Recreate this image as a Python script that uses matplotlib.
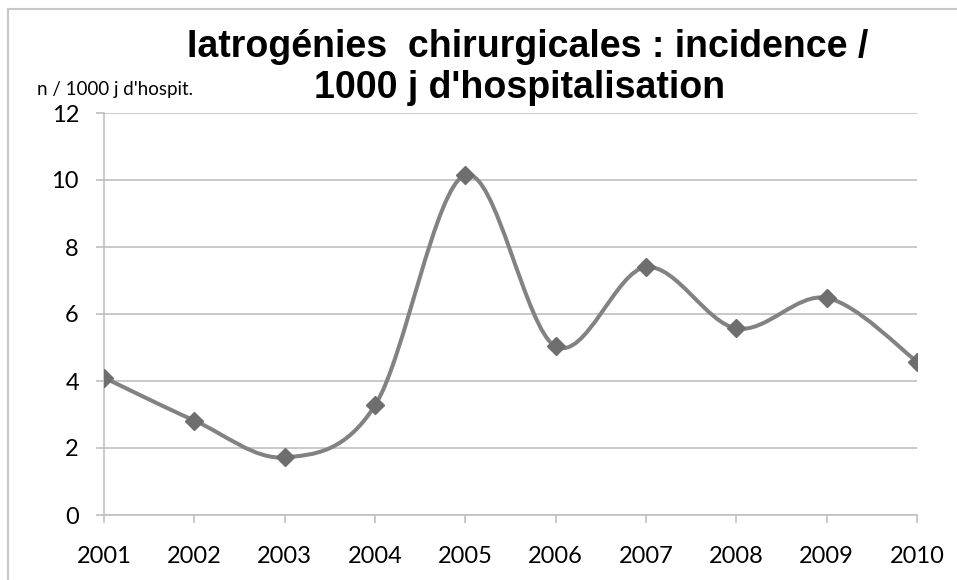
import numpy as np
import matplotlib
matplotlib.use('Agg')
import matplotlib.pyplot as plt
from matplotlib.path import Path
from matplotlib.patches import PathPatch, Rectangle

annees = [2001, 2002, 2003, 2004, 2005, 2006, 2007, 2008, 2009, 2010]
incidence = [4.1, 2.82, 1.72, 3.27, 10.15, 5.03, 7.4, 5.57, 6.48, 4.58]
yticks = [0, 2, 4, 6, 8, 10, 12]

gris_ligne = '#828282'
gris_marq = '#6e6e6e'
gris_grille = '#c0c0c0'

fig = plt.figure(figsize=(9.57, 5.8), dpi=100)
ax = fig.add_axes([104 / 957, 65 / 580, 813 / 957, 402 / 580])

# courbe lissee facon Excel (bezier catmull-rom)
x = np.arange(len(annees), dtype=float)
y = np.array(incidence)
verts = [(x[0], y[0])]
codes = [Path.MOVETO]
n = len(x)
for i in range(n - 1):
	x0, y0 = (x[i - 1], y[i - 1]) if i > 0 else (x[i], y[i])
	x3, y3 = (x[i + 2], y[i + 2]) if i + 2 < n else (x[i + 1], y[i + 1])
	c1 = (x[i] + (x[i + 1] - x0) / 6, y[i] + (y[i + 1] - y0) / 6)
	c2 = (x[i + 1] - (x3 - x[i]) / 6, y[i + 1] - (y3 - y[i]) / 6)
	verts += [c1, c2, (x[i + 1], y[i + 1])]
	codes += [Path.CURVE4] * 3
ax.add_patch(PathPatch(Path(verts, codes), facecolor='none', edgecolor=gris_ligne, lw=2.9, zorder=3, capstyle='round', joinstyle='round'))
ax.plot(x, y, linestyle='none', marker='D', ms=9, color=gris_marq, zorder=4)

ax.set_xlim(0, n - 1)
ax.set_ylim(0, 12)
ax.set_yticks(yticks)
ax.set_xticks(x)
ax.set_xticklabels([str(a) for a in annees])
ax.yaxis.grid(True, color=gris_grille, lw=1.2)
ax.set_axisbelow(True)
for s in ['top', 'right']:
	ax.spines[s].set_visible(False)
for s in ['left', 'bottom']:
	ax.spines[s].set_color(gris_grille)
	ax.spines[s].set_linewidth(1.2)
ax.tick_params(axis='y', length=6, width=1.2, color=gris_grille, pad=12, labelsize=17)
ax.tick_params(axis='x', length=6, width=1.2, color=gris_grille, pad=16, labelsize=17)
for lab in ax.get_xticklabels() + ax.get_yticklabels():
	lab.set_family('Lato')

fig.text(528 / 957, 1 - 57 / 580, 'Iatrogénies  chirurgicales : incidence /', ha='center', va='baseline',
	family='Liberation Sans', weight='bold', fontsize=27)
fig.text(520 / 957, 1 - 98 / 580, "1000 j d'hospitalisation", ha='center', va='baseline',
	family='Liberation Sans', weight='bold', fontsize=27)
fig.text(37 / 957, 1 - 95 / 580, "n / 1000 j d'hospit.", ha='left', va='baseline', family='Lato', fontsize=13.5)

fig.patches.append(Rectangle((8 / 957, -0.05), 1.1, 1 - 9 / 580 + 0.05, transform=fig.transFigure,
	facecolor='none', edgecolor='#c8c8c8', lw=1.5))

fig.savefig('out.png', dpi=100)
